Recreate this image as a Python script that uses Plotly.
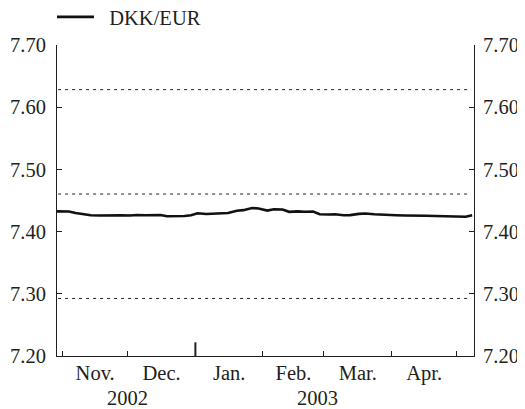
import plotly.graph_objects as go

# Data (DKK per EUR, twice-weekly readings)
dates = [
    "2002-10-29", "2002-10-31", "2002-11-04", "2002-11-07", "2002-11-11", "2002-11-14",
    "2002-11-18", "2002-11-21", "2002-11-25", "2002-11-28", "2002-12-02", "2002-12-05",
    "2002-12-09", "2002-12-12", "2002-12-16", "2002-12-19", "2002-12-23", "2002-12-27",
    "2002-12-30", "2003-01-02", "2003-01-06", "2003-01-09", "2003-01-13", "2003-01-16",
    "2003-01-20", "2003-01-23", "2003-01-27", "2003-01-30", "2003-02-03", "2003-02-06",
    "2003-02-10", "2003-02-13", "2003-02-17", "2003-02-20", "2003-02-24", "2003-02-27",
    "2003-03-03", "2003-03-06", "2003-03-10", "2003-03-13", "2003-03-17", "2003-03-20",
    "2003-03-24", "2003-03-27", "2003-03-31", "2003-04-03", "2003-04-07", "2003-04-10",
    "2003-04-14", "2003-04-17", "2003-04-21", "2003-04-24", "2003-04-28", "2003-05-01",
    "2003-05-05", "2003-05-08",
]
dkk_eur = [
    7.4325, 7.4326, 7.4324, 7.4300, 7.4275, 7.4262,
    7.4258, 7.4262, 7.4259, 7.4262, 7.4260, 7.4266,
    7.4262, 7.4268, 7.4266, 7.4246, 7.4245, 7.4252,
    7.4262, 7.4295, 7.4283, 7.4285, 7.4287, 7.4300,
    7.4335, 7.4345, 7.4380, 7.4372, 7.4338, 7.4360,
    7.4355, 7.4318, 7.4325, 7.4318, 7.4322, 7.4280,
    7.4275, 7.4278, 7.4262, 7.4265, 7.4285, 7.4292,
    7.4278, 7.4270, 7.4265, 7.4262, 7.4258, 7.4260,
    7.4258, 7.4255, 7.4250, 7.4245, 7.4240, 7.4245,
    7.4238, 7.4262,
]

# ERM II central rate and +/-2.25% band
band_levels = [7.62824, 7.46038, 7.29252]
band_span = ["2002-10-30", "2003-05-07"]

x_range = ["2002-10-29 12:00", "2003-05-08 20:00"]
y_range = [7.20, 7.70]
y_ticks = [7.20, 7.30, 7.40, 7.50, 7.60, 7.70]
month_ticks = ["2002-11-01", "2002-12-01", "2003-01-01", "2003-02-01",
               "2003-03-01", "2003-04-01", "2003-05-01"]
year_boundary = "2003-01-01"
year_labels = ["2002", "2003"]
year_label_pos = ["2002-12-01", "2003-02-26"]

FONT = "Liberation Serif, Times New Roman, serif"
FS = 20.5
TXT = "#231f20"
AX = "#231f20"

fig = go.Figure()

for lvl in band_levels:
    fig.add_trace(go.Scatter(
        x=band_span, y=[lvl, lvl], mode="lines",
        line=dict(color=AX, width=1, dash="3px,4px"),
        showlegend=False, hoverinfo="skip"))

fig.add_trace(go.Scatter(
    x=dates, y=dkk_eur, mode="lines", name="\u00a0\u00a0DKK/EUR",
    line=dict(color="#111111", width=2.6)))

# taller tick at the year boundary
fig.add_trace(go.Scatter(
    x=[year_boundary, year_boundary], y=[y_range[0], y_range[0] + 0.022],
    mode="lines", line=dict(color=AX, width=2),
    showlegend=False, hoverinfo="skip"))

# invisible trace to activate the right axis and the month-label axis
fig.add_trace(go.Scatter(x=[dates[0]], y=[dkk_eur[0]], yaxis="y2", xaxis="x2",
                         mode="markers", marker=dict(opacity=0),
                         showlegend=False, hoverinfo="skip"))

for lab, pos in zip(year_labels, year_label_pos):
    fig.add_annotation(x=pos, y=-0.135, xref="x", yref="paper", text=lab,
                       yanchor="middle",
                       showarrow=False, font=dict(family=FONT, size=FS, color=TXT))

# figure is 8px smaller than the window because the page body has an 8px margin
fig.update_layout(
    width=517, height=401,
    margin=dict(l=49, r=51, t=37, b=53, autoexpand=False),
    paper_bgcolor="white", plot_bgcolor="white",
    font=dict(family=FONT, size=FS, color=TXT),
    showlegend=True,
    legend=dict(x=-0.012, y=1.09, xanchor="left", yanchor="middle", itemwidth=37,
                bgcolor="rgba(0,0,0,0)", font=dict(family=FONT, size=FS, color=TXT)),
    xaxis=dict(
        range=x_range, type="date",
        tickvals=month_ticks, ticks="inside", ticklen=5, tickwidth=1, tickcolor=AX,
        showticklabels=False,
        showline=True, linecolor=AX, linewidth=1,
        showgrid=False, zeroline=False,
    ),
    xaxis2=dict(
        range=x_range, type="date", overlaying="x", side="bottom",
        anchor="y", dtick="M1", tick0="2002-11-01", tickformat="%b.",
        ticklabelmode="period", ticks="", showgrid=False, zeroline=False,
        showline=False, ticklabelstandoff=2,
    ),
    yaxis=dict(
        range=y_range, tickvals=y_ticks, tickformat=".2f",
        ticks="inside", ticklen=5, tickwidth=1, tickcolor=AX,
        showline=True, linecolor=AX, linewidth=1,
        showgrid=False, zeroline=False, ticklabelstandoff=6,
    ),
    yaxis2=dict(
        range=y_range, tickvals=y_ticks, tickformat=".2f", overlaying="y", side="right",
        ticks="inside", ticklen=5, tickwidth=1, tickcolor=AX,
        showline=True, linecolor=AX, linewidth=1,
        showgrid=False, zeroline=False, ticklabelstandoff=4,
    ),
)

fig.write_html("out.html")
